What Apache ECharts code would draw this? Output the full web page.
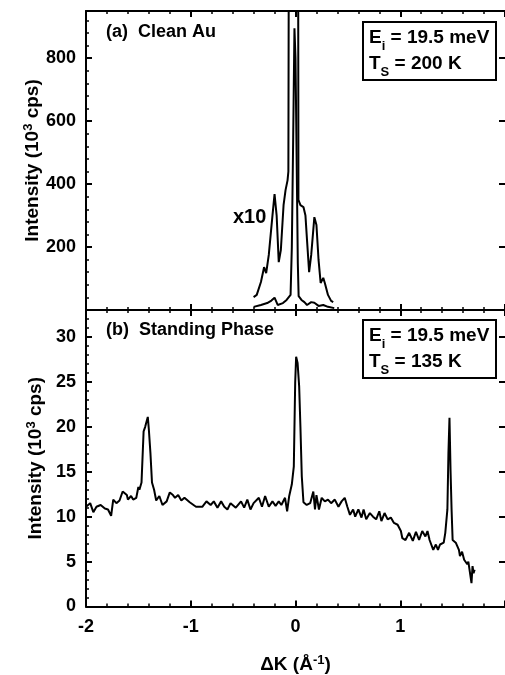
<!DOCTYPE html>
<html>
<head>
<meta charset="utf-8">
<script src="https://cdn.jsdelivr.net/npm/echarts@6/dist/echarts.min.js"></script>
<style>
html,body{margin:0;padding:0;background:#fff;}
#chart{width:505px;height:675px;}
</style>
</head>
<body>
<div id="chart"></div>
<script>
// ---- Data ----
// Panel (a) Clean Au : x10 curve
var x10K = [-0.40,-0.37,-0.33,-0.30,-0.28,-0.255,-0.22,-0.20,-0.18,-0.16,-0.14,-0.114,-0.095,-0.076,-0.068,-0.062,-0.01,0.024,0.028,0.047,0.076,0.095,0.11,0.13,0.15,0.18,0.20,0.22,0.24,0.265,0.28,0.31,0.34,0.36];
var x10I = [41,48,89,136,117,175,300,368,300,152,190,333,381,412,440,1500,9000,1500,350,333,327,300,222,120,175,295,270,159,86,102,86,48,29,25];
// Panel (a) Clean Au : x1 curve
var x1K = [-0.40,-0.33,-0.27,-0.23,-0.20,-0.17,-0.12,-0.085,-0.066,-0.047,-0.035,-0.022,-0.01,0.0,0.012,0.022,0.03,0.057,0.085,0.11,0.15,0.18,0.22,0.265,0.31,0.37];
var x1I = [10,16,22,30,39,16,22,32,38,48,200,550,895,800,450,150,44,32,25,16,25,23,13,16,10,6];
// Panel (b) Standing Phase
var bK = [-2.0,-1.96,-1.93,-1.90,-1.86,-1.82,-1.79,-1.76,-1.74,-1.71,-1.68,-1.65,-1.61,-1.60,-1.57,-1.55,-1.52,-1.50,-1.49,-1.47,-1.45,-1.435,-1.41,-1.40,-1.385,-1.37,-1.35,-1.33,-1.30,-1.27,-1.23,-1.20,-1.17,-1.15,-1.12,-1.09,-1.06,-1.01,-0.95,-0.89,-0.85,-0.81,-0.78,-0.745,-0.71,-0.68,-0.65,-0.62,-0.57,-0.52,-0.49,-0.46,-0.43,-0.40,-0.35,-0.32,-0.29,-0.255,-0.22,-0.19,-0.16,-0.135,-0.10,-0.08,-0.06,-0.035,-0.016,-0.003,0.006,0.02,0.035,0.047,0.06,0.076,0.107,0.14,0.17,0.186,0.20,0.224,0.25,0.28,0.31,0.34,0.375,0.41,0.44,0.47,0.495,0.52,0.55,0.57,0.60,0.63,0.65,0.675,0.71,0.74,0.77,0.80,0.82,0.85,0.88,0.91,0.94,0.975,1.006,1.02,1.05,1.085,1.12,1.15,1.18,1.21,1.24,1.26,1.28,1.315,1.34,1.36,1.38,1.415,1.43,1.45,1.46,1.47,1.48,1.49,1.50,1.53,1.56,1.57,1.59,1.61,1.62,1.64,1.65,1.67,1.68,1.69,1.70,1.71];
var bI = [11.1,11.5,10.5,11.1,11.3,10.9,10.8,10.1,11.9,11.5,11.8,12.8,12.4,11.9,12.3,11.9,12.1,13.3,13.0,13.8,19.5,20.0,21.1,19.7,17.1,13.8,13.0,11.8,12.3,11.3,11.7,12.7,12.4,12.1,12.4,11.8,12.1,11.6,11.1,11.1,11.7,11.3,11.7,11.0,11.7,11.1,10.8,11.5,11.0,11.7,11.0,11.9,10.8,11.5,12.1,11.1,12.3,11.1,11.7,11.2,11.7,11.3,12.1,10.6,12.3,13.6,15.6,24.9,27.8,27.1,24.5,20.0,14.5,11.6,11.3,11.5,12.8,10.8,12.4,10.8,12.1,11.7,11.9,11.5,11.9,11.1,11.7,12.1,11.1,10.2,10.8,10.0,10.8,9.9,10.8,9.7,10.4,10.0,9.7,10.6,9.5,10.4,9.7,9.9,9.3,9.1,8.4,7.6,7.4,8.2,7.3,8.3,7.4,8.4,7.8,8.4,7.4,6.3,6.9,6.3,6.9,7.1,8.2,10.8,17.1,21.0,15.2,10.8,7.4,7.1,6.3,5.6,6.1,5.2,5.4,4.7,5.0,3.4,2.6,4.5,3.7,4.1];
// Axis ranges / ticks
var xMin = -2, xMax = 2, xStep = 1;
var aMin = 0, aMax = 950, aStep = 200;
var bMin = 0, bMax = 33, bStep = 5;

function pairs(k, v){ return k.map(function(x,i){ return [x, v[i]]; }); }

var FONT = '"Liberation Sans", Arial, sans-serif';
var axLine = {show:true, onZero:false, lineStyle:{color:'#000', width:2}};
function xAx(grid, pos, labels, extra){
  var o = {
    type:'value', gridIndex:grid, position:pos, min:xMin, max:xMax, interval:xStep,
    axisLine: axLine,
    axisTick:{show:true, inside:true, length:6, lineStyle:{color:'#000', width:2}},
    minorTick:{show:true, splitNumber:5, length:3, lineStyle:{color:'#000', width:1.5}},
    splitLine:{show:false},
    axisLabel:{show:labels, color:'#000', fontFamily:FONT, fontWeight:'bold', fontSize:18, margin:12, showMaxLabel:false}
  };
  for (var key in extra) o[key] = extra[key];
  return o;
}
function yAx(grid, pos, min, max, step, split, labels, extra){
  var o = {
    type:'value', gridIndex:grid, position:pos, min:min, max:max, interval:step,
    axisLine: pos==='left' ? axLine : {show:false, onZero:false},
    axisTick:{show:true, inside:true, length:6, lineStyle:{color:'#000', width:2}},
    minorTick:{show:pos==='left', splitNumber:split, length:3, lineStyle:{color:'#000', width:1.5}},
    splitLine:{show:false},
    axisLabel:{show:labels, color:'#000', fontFamily:FONT, fontWeight:'bold', fontSize:18, margin:10,
      formatter:function(v){ return (v % step === 0 && v > 0) || (v===0 && grid===1) ? String(v) : ''; }}
  };
  for (var key in extra) o[key] = extra[key];
  return o;
}
var nameRich = {n:{fontFamily:FONT, fontWeight:'bold', fontSize:19, color:'#000', lineHeight:22},
                s:{fontFamily:FONT, fontWeight:'bold', fontSize:13, color:'#000', verticalAlign:'top', lineHeight:22}};
function yName(gap){
  return {
    name:'{n|Intensity (10}{s|3}{n| cps)}', nameLocation:'middle', nameGap:gap, nameMoveOverlap:false,
    nameTextStyle:{color:'#000', fontFamily:FONT, fontWeight:'bold', fontSize:19, rich:nameRich}
  };
}

function box(y, l1, l2){
  var rich = {n:{font:'bold 19px '+FONT, fill:'#000', lineHeight:22, verticalAlign:'bottom'},
              sub:{font:'bold 13px '+FONT, fill:'#000', lineHeight:22, verticalAlign:'bottom', padding:[0,0,-6,0]}};
  return [
    {type:'rect', shape:{x:363, y:y, width:133, height:58}, style:{fill:'#fff', stroke:'#000', lineWidth:2}, z:10},
    {type:'text', x:369, y:y+3, style:{text:l1, rich:rich, fill:'#000'}, z:11},
    {type:'text', x:369, y:y+29, style:{text:l2, rich:rich, fill:'#000'}, z:11}
  ];
}

var chart = echarts.init(document.getElementById('chart'), null, {renderer:'canvas'});
chart.setOption({
  backgroundColor:'#fff',
  animation:false,
  grid:[
    {left:86, top:11, width:422, height:299},
    {left:86, top:310, width:422, height:297}
  ],
  xAxis:[
    xAx(0,'bottom',false,{}),
    xAx(0,'top',false,{}),
    xAx(1,'bottom',true,{name:'{n|\u0394K (\u00C5}{s|-1}{n|)}', nameLocation:'middle', nameGap:47,
      nameTextStyle:{color:'#000', fontFamily:FONT, fontWeight:'bold', fontSize:19, rich:nameRich}}),
    xAx(1,'top',false,{})
  ],
  yAxis:[
    yAx(0,'left',aMin,aMax,aStep,5,true,yName(42)),
    yAx(0,'right',aMin,aMax,aStep,5,false,{}),
    yAx(1,'left',bMin,bMax,bStep,5,true,yName(39)),
    yAx(1,'right',bMin,bMax,bStep,5,false,{})
  ],
  series:[
    {type:'line', xAxisIndex:0, yAxisIndex:0, data:pairs(x10K,x10I), showSymbol:false, clip:true,
      lineStyle:{color:'#000', width:2}},
    {type:'line', xAxisIndex:0, yAxisIndex:0, data:pairs(x1K,x1I), showSymbol:false, clip:true,
      lineStyle:{color:'#000', width:2}},
    {type:'line', xAxisIndex:2, yAxisIndex:2, data:pairs(bK,bI), showSymbol:false, clip:true,
      lineStyle:{color:'#000', width:2}}
  ],
  graphic:[].concat(
    box(22, '{n|E}{sub|i}{n| = 19.5 meV}', '{n|T}{sub|S}{n| = 200 K}'),
    box(320, '{n|E}{sub|i}{n| = 19.5 meV}', '{n|T}{sub|S}{n| = 135 K}'),
    [
      {type:'text', x:106, y:23, style:{text:'(a)  Clean Au', font:'bold 18px '+FONT, fill:'#000'}, z:11},
      {type:'text', x:106, y:321, style:{text:'(b)  Standing Phase', font:'bold 18px '+FONT, fill:'#000'}, z:11},
      {type:'text', x:233, y:207, style:{text:'x10', font:'bold 20px '+FONT, fill:'#000'}, z:11}
    ]
  )
});
</script>
</body>
</html>
